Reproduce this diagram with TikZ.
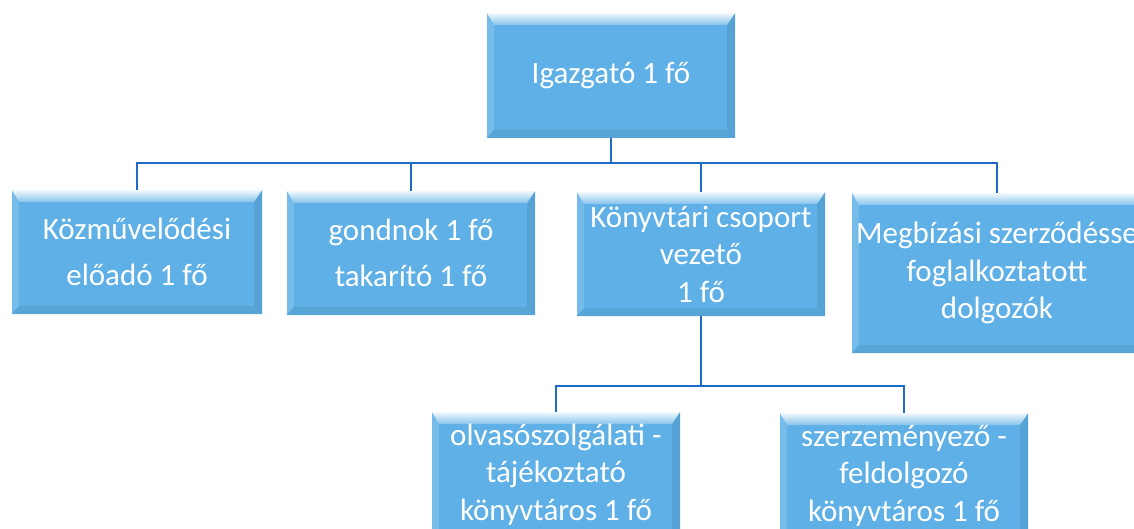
\documentclass[tikz,border=0pt]{standalone}
\usepackage{fontspec}
\usepackage{xcolor}
\usetikzlibrary{positioning}
\usetikzlibrary{calc}
\newfontfamily\boxfont{Carlito}
\definecolor{boxblue}{RGB}{94,176,230}
\definecolor{lineblue}{RGB}{28,108,200}
\tikzset{
  orgbox/.style={rectangle, fill=boxblue, text=white, inner sep=0pt, align=center,
    minimum width=248pt, minimum height=124pt,
    font=\boxfont\fontsize{31}{37.5}\selectfont,
    path picture={
      \path (path picture bounding box.north west) coordinate (pnw)
            (path picture bounding box.south east) coordinate (pse);
      \fill[boxblue!85!white] (pnw) -- ($(pnw)+(7pt,-12pt)$) -- ($(pse -| pnw)+(7pt,8pt)$) -- (pse -| pnw) -- cycle;
      \fill[boxblue!92!black] (pnw -| pse) -- (pse) -- ($(pse)+(-8pt,8pt)$) -- ($(pnw -| pse)+(-8pt,-12pt)$) -- cycle;
      \fill[boxblue!93!black] (pse) -- (pse -| pnw) -- ($(pse -| pnw)+(7pt,8pt)$) -- ($(pse)+(-8pt,8pt)$) -- cycle;
      \shade[top color=white!92!boxblue, bottom color=boxblue!75!white] (pnw) -- (pnw -| pse) -- ($(pnw -| pse)+(-8pt,-12pt)$) -- ($(pnw)+(7pt,-12pt)$) -- cycle;
    }},
  link/.style={draw=lineblue, line width=2.8pt}
}
\begin{document}
\begin{tikzpicture}[x=1pt,y=-1pt]
  \useasboundingbox (0,0) rectangle (1134,529);
  \clip (0,0) rectangle (1134,529);
  % boxes
  \node[orgbox, minimum height=125pt] (ig) at (611,75.5) {Igazgató 1 fő};
  \node[orgbox, minimum width=250pt] (kozm) at (137,252) {Közművelődési\\[8pt] előadó 1 fő};
  \node[orgbox] (gond) at (411,253) {gondnok 1 fő\\[8pt] takarító 1 fő};
  \node[orgbox] (konyv) at (701,254) {Könyvtári csoport\\ vezető\\ 1 fő};
  \node[orgbox, minimum width=290pt, minimum height=160pt] (megb) at (997,273) {Megbízási szerződésse\\ foglalkoztatott\\ dolgozók};
  \node[orgbox, minimum height=125pt] (olv) at (556,474.5) {olvasószolgálati -\\ tájékoztató\\ könyvtáros 1 fő};
  \node[orgbox, minimum height=125pt] (szerz) at (904,475.5) {szerzeményező -\\ feldolgozó\\ könyvtáros 1 fő};
  % connectors
  \coordinate (bus) at (0,163);
  \coordinate (bus2) at (0,386);
  \draw[link] (kozm.north) |- (bus -| megb.north) -- (megb.north);
  \draw[link] (ig.south) -- (ig.south |- bus);
  \draw[link] (gond.north) -- (gond.north |- bus);
  \draw[link] (konyv.north) -- (konyv.north |- bus);
  \draw[link] (konyv.south) -- (konyv.south |- bus2);
  \draw[link] (olv.north) |- (bus2 -| szerz.north) -- (szerz.north);
\end{tikzpicture}
\end{document}
